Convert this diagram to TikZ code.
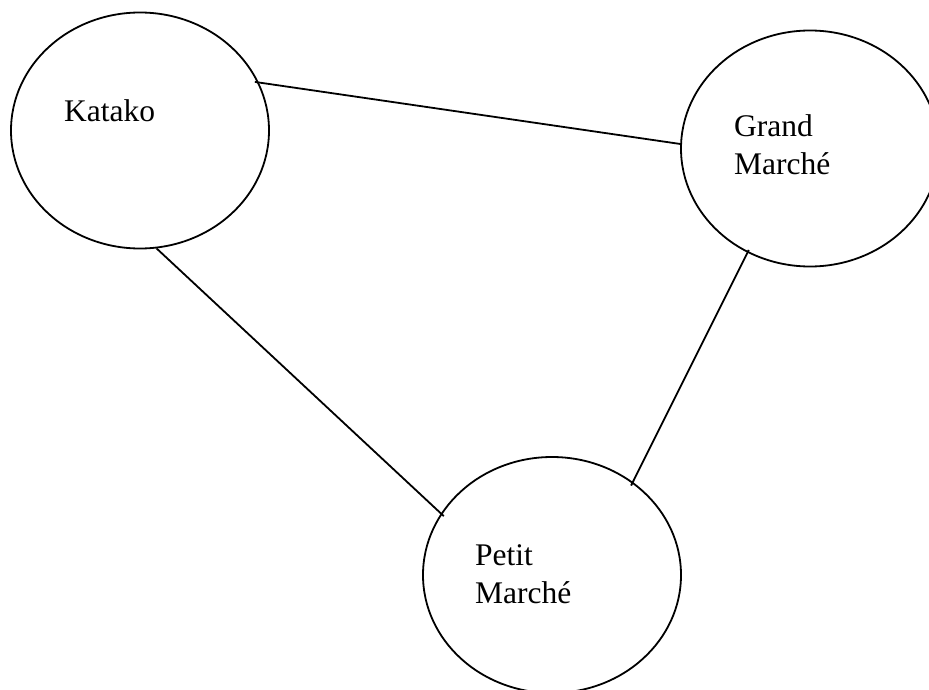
\documentclass[tikz,border=0pt]{standalone}
\usepackage{fontspec}
\setmainfont{Liberation Serif}
\usetikzlibrary{shapes.geometric,positioning}

\begin{document}
\begin{tikzpicture}[
      x=1pt,y=-1pt,
      place/.style={
         ellipse,
         draw=black,
         line width=1.8pt,
         inner sep=0pt,
         minimum width=258pt,
         minimum height=236pt},
      placename/.style={
         anchor=base west,
         inner sep=0pt,
         align=left,
         font=\fontsize{31.5}{38}\selectfont},
      road/.style={
         line width=1.8pt,
         draw=black},
      xs/.style = {xshift=#1 pt},
      ys/.style = {yshift=#1 pt},
      ]
      \useasboundingbox (0,0) rectangle (929,690);

      % markets
      \node[place] (katako) at (140,130.5) {};
      \node[place] (grand) at (810,148.5) {};
      \node[place] (petit) at (552,575) {};

      % names, up and left of the centre (base = last line)
      \node[placename] (katako-txt) at ([xs=-76,ys=8.5] katako.center) {Katako};
      \node[placename] (grand-txt) at ([xs=-76,ys=-26.5] grand.center) {Grand\\Marché};
      \node[placename] (petit-txt) at ([xs=-77,ys=-28] petit.center) {Petit\\Marché};

    \foreach \i/\j/\a/\b in {% start/end/overshoot start/overshoot end
      katako.22/grand.178/4/0,
      katako.-82/petit.151/0/4,
      grand.239/petit.49/3/4}
      \draw [road,shorten <=-\a pt,shorten >=-\b pt] (\i) -- (\j);
    \end{tikzpicture}
\end{document}
